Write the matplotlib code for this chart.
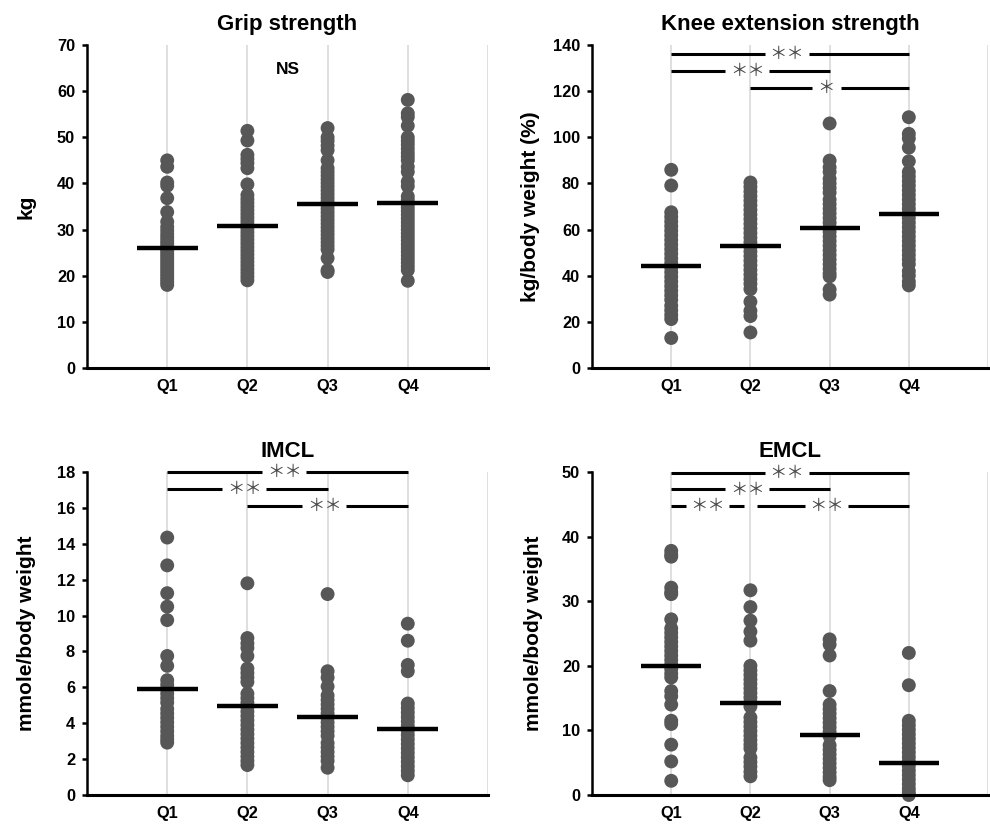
import matplotlib
matplotlib.use("Agg")
import matplotlib.pyplot as plt

plt.rcParams['font.family'] = ['Liberation Sans', 'DejaVu Sans']

categories = ["Q1", "Q2", "Q3", "Q4"]

# ---- Grip strength (kg)
grip_q1 = [45.0, 43.6, 40.2, 39.5, 36.8, 33.8, 31.7, 30.6, 29.8, 29.0, 28.3, 27.6, 27.0, 26.4,
           25.8, 25.2, 24.6, 24.0, 23.4, 22.8, 22.2, 21.6, 21.0, 20.4, 19.8, 19.2, 18.6, 18.0]
grip_q2 = [51.4, 49.3, 46.2, 45.3, 44.4, 43.3, 39.8, 37.5, 36.6, 35.8, 35.0, 34.2, 33.4, 32.6,
           31.8, 31.0, 30.2, 29.4, 28.6, 27.8, 27.0, 26.2, 25.4, 24.6, 23.8, 23.0, 22.2, 21.4,
           20.6, 19.8, 19.0]
grip_q3 = [52.0, 50.0, 49.2, 48.2, 47.2, 45.0, 43.3, 42.5, 41.7, 40.9, 40.1, 39.3, 38.5, 37.7,
           36.9, 36.1, 35.3, 34.5, 33.7, 32.9, 32.1, 31.3, 30.5, 29.7, 28.9, 28.1, 27.3, 26.5,
           25.7, 23.8, 21.2, 20.8]
grip_q4 = [58.1, 55.2, 54.4, 52.5, 50.0, 49.2, 48.4, 47.5, 46.6, 45.8, 45.0, 43.6, 42.5, 40.4,
           39.4, 37.2, 36.4, 35.6, 34.8, 34.0, 33.2, 32.4, 31.6, 30.8, 30.0, 29.2, 28.4, 27.6,
           26.8, 26.0, 25.2, 24.4, 23.6, 22.8, 22.0, 21.2, 18.9]
grip_means = [25.9, 30.8, 35.6, 35.7]

# ---- Knee extension strength (kg/body weight %)
knee_q1 = [85.9, 79.1, 67.5, 65.5, 63.5, 61.5, 59.5, 57.5, 55.5, 53.5, 51.5, 49.5, 47.5, 45.5,
           43.5, 41.5, 39.5, 37.5, 35.5, 33.5, 31.5, 29.5, 27.0, 25.0, 23.0, 21.2, 13.0]
knee_q2 = [80.4, 78.5, 76.5, 74.5, 72.5, 70.5, 68.5, 66.5, 64.5, 62.5, 60.5, 58.5, 56.5, 54.5,
           52.5, 50.5, 48.5, 46.5, 44.5, 42.5, 40.5, 38.5, 36.5, 34.2, 28.7, 24.8, 22.5, 15.4]
knee_q3 = [106.0, 89.9, 87.0, 85.0, 82.0, 80.0, 78.0, 76.0, 73.0, 71.0, 69.0, 67.0, 65.0, 63.0,
           61.0, 59.0, 57.0, 55.0, 53.0, 51.0, 49.0, 47.0, 45.0, 43.0, 41.0, 39.7, 34.0, 31.8]
knee_q4 = [108.7, 101.5, 99.5, 95.5, 89.6, 85.0, 83.0, 81.0, 79.0, 77.0, 75.0, 73.0, 71.0, 69.0,
           67.0, 65.0, 63.0, 61.0, 59.0, 57.0, 55.0, 53.0, 51.0, 49.0, 47.0, 45.0, 42.0, 40.0,
           37.5, 35.8]
knee_means = [44.4, 52.7, 60.5, 66.7]

# ---- IMCL (mmole/body weight)
imcl_q1 = [14.35, 12.8, 11.25, 10.5, 9.75, 7.75, 7.2, 6.4, 6.15, 5.9, 5.65, 5.4, 5.15, 4.8,
           4.55, 4.3, 4.05, 3.8, 3.55, 3.3, 3.1, 2.92]
imcl_q2 = [11.8, 8.75, 8.45, 8.2, 7.75, 7.05, 6.8, 6.55, 6.3, 5.65, 5.4, 5.15, 4.9, 4.65, 4.4,
           4.15, 3.9, 3.65, 3.4, 3.15, 2.9, 2.65, 2.4, 2.15, 1.9, 1.67]
imcl_q3 = [11.2, 6.9, 6.55, 6.05, 5.55, 5.3, 5.05, 4.8, 4.55, 4.3, 4.05, 3.8, 3.55, 3.3, 2.9,
           2.65, 2.4, 2.15, 1.9, 1.52]
imcl_q4 = [9.55, 8.6, 7.25, 6.9, 5.1, 4.85, 4.6, 4.35, 4.1, 3.85, 3.6, 3.35, 3.1, 2.85, 2.6,
           2.35, 2.1, 1.85, 1.6, 1.35, 1.1]
imcl_means = [5.92, 4.95, 4.35, 3.7]

# ---- EMCL (mmole/body weight)
emcl_q1 = [37.8, 37.2, 36.9, 32.1, 31.4, 31.1, 27.2, 25.8, 25.1, 24.4, 23.7, 23.0, 22.3, 21.6,
           20.9, 20.2, 19.5, 18.8, 18.2, 16.1, 15.3, 14.0, 11.5, 11.0, 7.8, 5.2, 2.2]
emcl_q2 = [31.7, 29.1, 27.0, 25.3, 23.9, 20.0, 19.3, 18.6, 17.9, 17.2, 16.5, 15.8, 15.1, 14.4,
           13.7, 12.0, 11.3, 10.6, 9.9, 9.2, 8.5, 7.8, 7.2, 5.8, 5.1, 4.4, 3.6, 2.9]
emcl_q3 = [24.1, 23.3, 21.6, 16.1, 14.0, 13.3, 12.6, 11.9, 11.2, 10.5, 9.8, 9.1, 7.7, 7.0, 6.3,
           5.6, 4.9, 4.2, 3.5, 2.8, 2.3]
emcl_q4 = [22.0, 17.0, 11.5, 10.8, 10.1, 9.4, 8.7, 8.0, 7.3, 6.6, 5.9, 5.2, 4.5, 3.8, 3.1, 2.4,
           1.7, 1.0, 0.4, 0.0]
emcl_means = [20.0, 14.2, 9.35, 4.9]

# significance brackets: (from group, to group, y, label)
knee_sig = [(1, 4, 136.0, "＊＊"), (1, 3, 128.7, "＊＊"), (2, 4, 121.4, "＊")]
imcl_sig = [(1, 4, 18.0, "＊＊"), (1, 3, 17.05, "＊＊"), (2, 4, 16.1, "＊＊")]
emcl_sig = [(1, 4, 49.8, "＊＊"), (1, 3, 47.3, "＊＊"), (1, 2, 44.7, "＊＊"), (2, 4, 44.7, "＊＊")]

panels = [
    dict(title="Grip strength", ylabel="kg", groups=[grip_q1, grip_q2, grip_q3, grip_q4],
         means=grip_means, ymax=70, ystep=10, sig=[], ns=True),
    dict(title="Knee extension strength", ylabel="kg/body weight (%)",
         groups=[knee_q1, knee_q2, knee_q3, knee_q4], means=knee_means, ymax=140, ystep=20,
         sig=knee_sig, ns=False),
    dict(title="IMCL", ylabel="mmole/body weight", groups=[imcl_q1, imcl_q2, imcl_q3, imcl_q4],
         means=imcl_means, ymax=18, ystep=2, sig=imcl_sig, ns=False),
    dict(title="EMCL", ylabel="mmole/body weight", groups=[emcl_q1, emcl_q2, emcl_q3, emcl_q4],
         means=emcl_means, ymax=50, ystep=10, sig=emcl_sig, ns=False),
]

fig = plt.figure(figsize=(9.9, 8.26), dpi=100)
rects = [
    [0.0879, 0.5545, 0.405, 0.391],
    [0.598, 0.5545, 0.400, 0.391],
    [0.0879, 0.0375, 0.405, 0.391],
    [0.598, 0.0375, 0.400, 0.391],
]
label_x = [-0.128, -0.132, -0.128, -0.124]

dot_color = "#575757"
grid_color = "#d9d9d9"

for rect, p, lx in zip(rects, panels, label_x):
    ax = fig.add_axes(rect)
    ax.set_xlim(0, 5)
    ax.set_ylim(0, p["ymax"])
    for gx in range(1, 6):
        ax.axvline(gx, color=grid_color, lw=1.2, zorder=0)
    for i, vals in enumerate(p["groups"]):
        xs = [i + 1] * len(vals)
        ax.scatter(xs, vals, s=100, color=dot_color, edgecolors="none", zorder=2, clip_on=False)
    for i, m in enumerate(p["means"]):
        ax.plot([i + 1 - 0.38, i + 1 + 0.38], [m, m], color="black", lw=3.2,
                solid_capstyle="butt", zorder=3)
    # significance bars with a gap for the asterisks
    sig = p["sig"]
    for (a, b, y, lab) in sig:
        x0, x1 = a, b
        for (c, d, y2, _) in sig:
            if y2 == y and (c, d) != (a, b):
                if d == a:
                    x0 = a + 0.08
                if c == b:
                    x1 = b - 0.08
        mid = (a + b) / 2 - 0.04
        half_gap = (0.2 + 0.175 * len(lab)) / 2
        kw = dict(color="black", lw=2.2, solid_capstyle="butt", zorder=4, clip_on=False)
        ax.plot([x0, mid - half_gap], [y, y], **kw)
        ax.plot([mid + half_gap, x1], [y, y], **kw)
        ax.text(mid, y, lab, ha="center", va="center", fontsize=12.5, color="#4a4a4a",
                family=["Noto Sans CJK JP", "DejaVu Sans"], zorder=5)
    if p["ns"]:
        ax.text(2.5, 64.6, "NS", ha="center", va="center", fontsize=12.5, fontweight="bold")

    ax.set_title(p["title"], fontsize=16, fontweight="bold", pad=11)
    ax.set_ylabel(p["ylabel"], fontsize=15, fontweight="bold")
    ax.yaxis.set_label_coords(lx, 0.5)
    ax.set_yticks(list(range(0, p["ymax"] + 1, p["ystep"])))
    ax.set_xticks([1, 2, 3, 4])
    ax.set_xticklabels(categories)
    for lbl in ax.get_xticklabels() + ax.get_yticklabels():
        lbl.set_fontweight("bold")
        lbl.set_fontsize(11.8)
    ax.tick_params(axis="x", length=0, pad=8)
    ax.tick_params(axis="y", length=3.6, width=1.8, direction="out", pad=5)
    ax.spines["top"].set_visible(False)
    ax.spines["right"].set_visible(False)
    ax.spines["left"].set_linewidth(1.8)
    ax.spines["bottom"].set_linewidth(2.2)

fig.savefig("out.png", dpi=100)
